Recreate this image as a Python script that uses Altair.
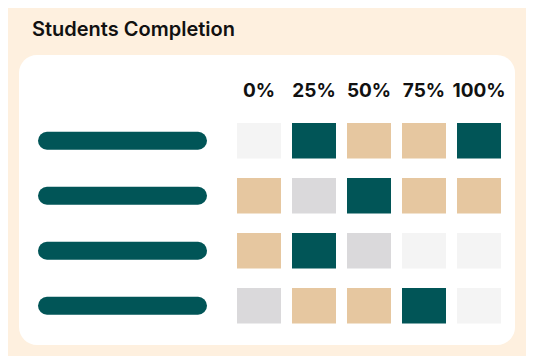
import altair as alt
import pandas as pd

columns = ["0%", "25%", "50%", "75%", "100%"]
students = ["Student 1", "Student 2", "Student 3", "Student 4"]
levels = ["none", "low", "partial", "complete"]
level_colors = ["#f4f4f4", "#dad9db", "#e6c7a0", "#015557"]
grid = [
    ["none", "complete", "partial", "partial", "complete"],
    ["partial", "low", "complete", "partial", "partial"],
    ["partial", "complete", "low", "none", "none"],
    ["low", "partial", "partial", "complete", "none"],
]

cells = pd.DataFrame(
    [{"student": s, "col": c, "level": grid[i][j]}
     for i, s in enumerate(students) for j, c in enumerate(columns)]
)
heads = pd.DataFrame({"col": columns})
names = pd.DataFrame({"student": students})

# page has an 8px margin: everything is shifted by -8 to line up with the reference
xs = alt.Scale(domain=columns, range=[229, 493], paddingInner=0.2, paddingOuter=0)
ys = alt.Scale(domain=students, range=[115, 315.5], paddingInner=0.3545, paddingOuter=0)

one = pd.DataFrame({"a": [0]})
bg = alt.Chart(one).mark_rect(color="#fef0df", cornerRadius=20).encode(
    x=alt.value(-8), x2=alt.value(526), y=alt.value(-8), y2=alt.value(356))
panel = alt.Chart(one).mark_rect(color="#ffffff", cornerRadius=18).encode(
    x=alt.value(11), x2=alt.value(507), y=alt.value(47), y2=alt.value(337))
title = alt.Chart(pd.DataFrame({"t": ["Students Completion"]})).mark_text(
    align="left", baseline="alphabetic", font="Inter", fontSize=20, fontWeight=600, color="#111111"
).encode(x=alt.value(24), y=alt.value(28), text="t:N")

heat = alt.Chart(cells).mark_rect().encode(
    x=alt.X("col:O", scale=xs, axis=None),
    y=alt.Y("student:O", scale=ys, axis=None),
    color=alt.Color("level:N", scale=alt.Scale(domain=levels, range=level_colors), legend=None),
)
header = alt.Chart(heads).mark_text(
    font="Inter", fontSize=19, fontWeight=700, color="#111111", baseline="middle"
).encode(
    x=alt.X("col:O", scale=xs, axis=None, bandPosition=0.5),
    y=alt.value(83),
    text="col:N",
)
bars = alt.Chart(names).mark_rule(strokeWidth=18, strokeCap="round", color="#015557").encode(
    y=alt.Y("student:O", scale=ys, axis=None, bandPosition=0.5),
    x=alt.value(39), x2=alt.value(190),
)

chart = alt.layer(bg, panel, title, heat, header, bars).properties(
    width=518, height=348, autosize=alt.AutoSizeParams(type="none"), padding=0,
    background="#fef0df",
).configure_view(stroke=None)

chart.save("out.html", embed_options={"renderer": "svg", "actions": False})
